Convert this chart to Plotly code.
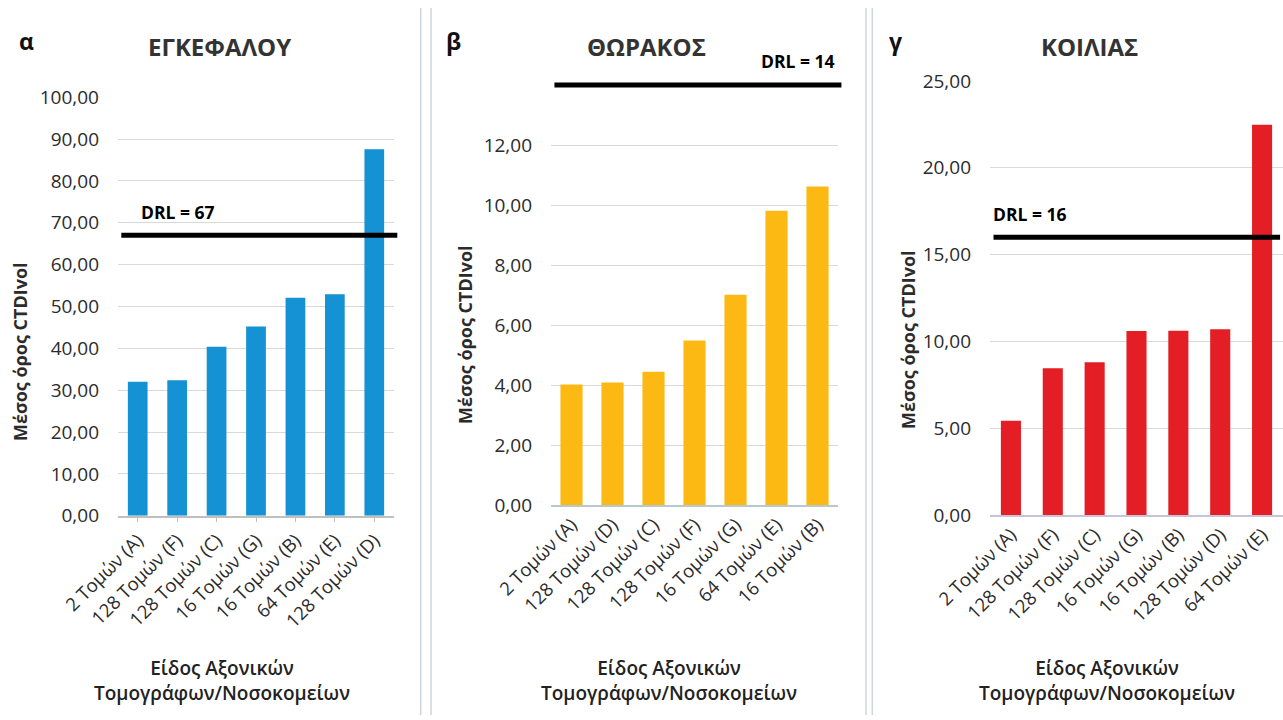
import plotly.graph_objects as go

W, H = 1283, 720

# Brain (α)
brain_labels = ["2 Τομών (A)", "128 Τομών (F)", "128 Τομών (C)", "16 Τομών (G)",
                "16 Τομών (B)", "64 Τομών (E)", "128 Τομών (D)"]
brain_values = [32.0, 32.4, 40.4, 45.2, 52.1, 52.9, 87.6]
brain_drl = 67

# Chest (β)
chest_labels = ["2 Τομών (A)", "128 Τομών (D)", "128 Τομών (C)", "128 Τομών (F)",
                "16 Τομών (G)", "64 Τομών (E)", "16 Τομών (B)"]
chest_values = [4.02, 4.08, 4.44, 5.48, 7.01, 9.81, 10.62]
chest_drl = 14

# Abdomen (γ)
abdomen_labels = ["2 Τομών (A)", "128 Τομών (F)", "128 Τομών (C)", "16 Τομών (G)",
                  "16 Τομών (B)", "128 Τομών (D)", "64 Τομών (E)"]
abdomen_values = [5.43, 8.45, 8.80, 10.60, 10.62, 10.70, 22.48]
abdomen_drl = 16

titles = ["ΕΓΚΕΦΑΛΟΥ", "ΘΩΡΑΚΟΣ", "ΚΟΙΛΙΑΣ"]
letters = ["α", "β", "γ"]
y_title = "Μέσος όρος CTDIvol"
x_title = "Είδος Αξονικών<br>Τομογράφων/Νοσοκομείων"

FONT = "Open Sans"
TXT = "#2b2b2b"
GRID = "#d9d9d9"


def px_x(p):
    return p / W


def px_y(p):
    return 1 - p / H


fig = go.Figure()

panels = [
    dict(labels=brain_labels, values=brain_values, drl=brain_drl, color="#1592d3",
         x0=118, x1=394, ybot=515.7, ytop=97.3, yrange=[0, 100],
         ticks=[0, 10, 20, 30, 40, 50, 60, 70, 80, 90, 100], gap=0.5,
         axcolor="#bfbfbf", showticks=True),
    dict(labels=chest_labels, values=chest_values, drl=chest_drl, color="#fdb913",
         x0=551, x1=838, ybot=505, ytop=55, yrange=[0, 15],
         ticks=[0, 2, 4, 6, 8, 10, 12], gap=0.46,
         axcolor="#b8c8d0", showticks=False),
    dict(labels=abdomen_labels, values=abdomen_values, drl=abdomen_drl, color="#e31e24",
         x0=990, x1=1283, ybot=515, ytop=81, yrange=[0, 25],
         ticks=[0, 5, 10, 15, 20, 25], gap=0.52,
         axcolor="#c8c4d8", showticks=False),
]

for i, p in enumerate(panels, start=1):
    xa = "x" if i == 1 else f"x{i}"
    ya = "y" if i == 1 else f"y{i}"
    fig.add_trace(go.Bar(
        x=list(range(len(p["labels"]))), y=p["values"],
        marker=dict(color=p["color"], line=dict(width=0)),
        width=1 - p["gap"], xaxis=xa, yaxis=ya, showlegend=False,
        hoverinfo="y",
    ))
    xkey = "xaxis" if i == 1 else f"xaxis{i}"
    ykey = "yaxis" if i == 1 else f"yaxis{i}"
    fig.update_layout(**{
        xkey: dict(
            domain=[px_x(p["x0"]), min(px_x(p["x1"]), 1)],
            anchor=ya, range=[-0.5, len(p["labels"]) - 0.5],
            tickmode="array", tickvals=list(range(len(p["labels"]))),
            ticktext=p["labels"], tickangle=-45,
            tickfont=dict(family=FONT, size=18.5, color=TXT),
            showline=True, linecolor=p["axcolor"], linewidth=1.5,
            showgrid=False, zeroline=False,
            ticks="outside" if p["showticks"] else "",
            tickson="boundaries" if p["showticks"] else "labels",
            ticklen=5, tickcolor="#bfbfbf", fixedrange=True,
            automargin=False,
        ),
        ykey: dict(
            domain=[px_y(p["ybot"]), px_y(p["ytop"])],
            anchor=xa, range=p["yrange"],
            tickmode="array", tickvals=p["ticks"],
            tickformat=".2f",
            tickfont=dict(family=FONT, size=19, color=TXT),
            showgrid=True, gridcolor=GRID, gridwidth=1,
            zeroline=False, showline=False, ticklabelstandoff=18,
            fixedrange=True, automargin=False,
        ),
    })

    # DRL reference line
    fig.add_shape(type="line", xref=f"{xa} domain", yref=ya,
                  x0=0.012, x1=1.012 if i < 3 else 0.99, y0=p["drl"], y1=p["drl"],
                  line=dict(color="black", width=5))

    # panel title and letter
    fig.add_annotation(text=titles[i - 1], xref="paper", yref="paper",
                       x=px_x([219, 646, 1089][i - 1]), y=px_y([47, 46, 46][i - 1]),
                       showarrow=False, font=dict(family=FONT, size=24, color="#333333", weight="bold"),
                       xanchor="center", yanchor="middle")
    fig.add_annotation(text=letters[i - 1], xref="paper", yref="paper",
                       x=px_x([17, 444, 887][i - 1]), y=px_y(41),
                       showarrow=False, font=dict(family=FONT, size=23, color="#111111", weight="bold"),
                       xanchor="left", yanchor="middle")

    # y-axis title
    fig.add_annotation(text=y_title, xref="paper", yref="paper",
                       x=px_x([20, 465, 908][i - 1]), y=px_y([352, 335, 340][i - 1]),
                       showarrow=False, textangle=-90,
                       font=dict(family=FONT, size=18, color=TXT, weight="bold"),
                       xanchor="center", yanchor="middle")

    # x-axis title
    fig.add_annotation(text=x_title, xref="paper", yref="paper",
                       x=px_x([222, 669, 1107][i - 1]), y=px_y(680),
                       showarrow=False, align="center",
                       font=dict(family=FONT, size=19, color="#222222", weight=600),
                       xanchor="center", yanchor="middle")

# DRL labels
fig.add_annotation(text=f"<b>DRL = {brain_drl}</b>", xref="x domain", yref="y",
                   x=0.075, y=brain_drl, yshift=23, xanchor="left", showarrow=False,
                   font=dict(family=FONT, size=17.5, color="black"))
fig.add_annotation(text=f"<b>DRL = {chest_drl}</b>", xref="x2 domain", yref="y2",
                   x=0.997, y=chest_drl, yshift=24, xanchor="right", showarrow=False,
                   font=dict(family=FONT, size=17.5, color="black"))
fig.add_annotation(text=f"<b>DRL = {abdomen_drl}</b>", xref="x3 domain", yref="y3",
                   x=0.005, y=abdomen_drl, yshift=23, xanchor="left", showarrow=False,
                   font=dict(family=FONT, size=17.5, color="black"))

# panel separators
for xs in [420.7, 431, 866, 872.3]:
    fig.add_shape(type="line", xref="paper", yref="paper",
                  x0=px_x(xs), x1=px_x(xs), y0=px_y(8), y1=px_y(715),
                  line=dict(color="#cfd6dc", width=1.5))

fig.update_layout(
    width=W, height=H,
    margin=dict(l=0, r=0, t=0, b=0, autoexpand=False),
    paper_bgcolor="white", plot_bgcolor="white",
    separators=",.",
    bargap=0.5,
    font=dict(family=FONT, color=TXT),
)

fig.write_html("out.html")
